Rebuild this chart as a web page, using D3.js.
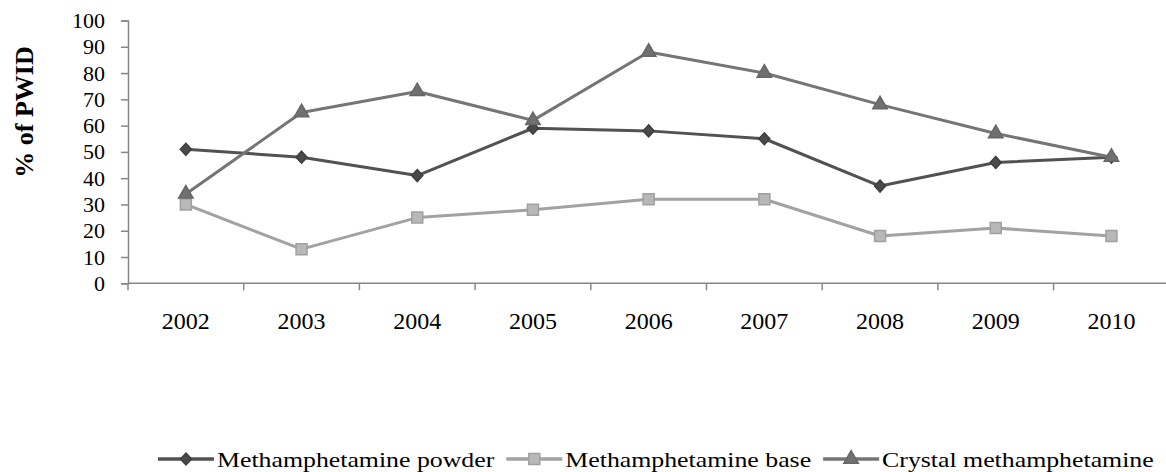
<!DOCTYPE html>
<html>
<head>
<meta charset="utf-8">
<script src="https://cdn.jsdelivr.net/npm/d3@7"></script>
<style>
  body { margin: 0; background: #fff; }
  svg text { font-family: "Liberation Serif", "DejaVu Serif", serif; fill: #000; }
</style>
</head>
<body>
<div id="chart-area"></div>
<script>
// data
let years = ["2002", "2003", "2004", "2005", "2006", "2007", "2008", "2009", "2010"];
let powder = [51, 48, 41, 59, 58, 55, 37, 46, 48];
let base = [30, 13, 25, 28, 32, 32, 18, 21, 18];
let crystal = [34, 65, 73, 62, 88, 80, 68, 57, 48];
let seriesNames = ["Methamphetamine powder", "Methamphetamine base", "Crystal methamphetamine"];
let yTicks = [0, 10, 20, 30, 40, 50, 60, 70, 80, 90, 100];

let W = 1166, H = 472;
let margin = {top: 20.5, left: 128};
let step = 115.7;

let svg = d3.select("#chart-area").append("svg")
  .attr("width", W)
  .attr("height", H);

// plot area runs a little past the right edge, as in the reference
let x = d3.scaleBand().domain(years).range([margin.left, margin.left + years.length * step]);
let y = d3.scaleLinear().domain([0, 100]).range([283.3, margin.top]);

let axisColor = "#868686";

// y axis
let yAxis = svg.append("g")
  .attr("transform", "translate(" + margin.left + ",0)")
  .call(d3.axisLeft(y).tickValues(yTicks).tickSize(7).tickPadding(16));
yAxis.select(".domain").attr("stroke", axisColor).attr("stroke-width", 1.5);
yAxis.selectAll(".tick line").attr("stroke", axisColor).attr("stroke-width", 1.5);
yAxis.selectAll(".tick text")
  .style("font-size", "22px")
  .style("font-family", "Liberation Serif")
  .attr("fill", "#000");

// x axis, ticks between categories
let xAxis = svg.append("g")
  .attr("transform", "translate(0," + y(0) + ")");
xAxis.append("line")
  .attr("x1", margin.left).attr("x2", W)
  .attr("stroke", axisColor).attr("stroke-width", 1.5);
xAxis.selectAll(".xt")
  .data(years.concat(["end"]))
  .enter().append("line")
  .attr("class", "xt")
  .attr("x1", (d, i) => margin.left + i * x.step())
  .attr("x2", (d, i) => margin.left + i * x.step())
  .attr("y1", 0).attr("y2", 7)
  .attr("stroke", axisColor).attr("stroke-width", 1.5);
xAxis.selectAll(".xl")
  .data(years)
  .enter().append("text")
  .attr("class", "xl")
  .attr("x", d => x(d) + x.bandwidth() / 2)
  .attr("y", 46)
  .attr("text-anchor", "middle")
  .style("font-size", "24px")
  .text(d => d);

// y axis title
svg.append("text")
  .attr("transform", "translate(33,112) rotate(-90)")
  .attr("text-anchor", "middle")
  .style("font-size", "26px")
  .style("font-weight", "bold")
  .text("% of PWID");

// diamond that is about as wide as it is tall
let squatDiamond = {
  draw(ctx, size) {
    let r = Math.sqrt(size / 2);
    ctx.moveTo(0, -r);
    ctx.lineTo(r * 0.92, 0);
    ctx.lineTo(0, r);
    ctx.lineTo(-r * 0.92, 0);
    ctx.closePath();
  }
};

let series = [
  {name: seriesNames[0], values: powder, line: "#525252", fill: "#4a4a4a", stroke: "#3f3f3f", shape: squatDiamond, size: 72},
  {name: seriesNames[1], values: base, line: "#a2a2a2", fill: "#b8b8b8", stroke: "#a0a0a0", shape: d3.symbolSquare, size: 121},
  {name: seriesNames[2], values: crystal, line: "#757575", fill: "#707070", stroke: "#666666", shape: d3.symbolTriangle, size: 90}
];

let line = d3.line()
  .x((d, i) => x(years[i]) + x.bandwidth() / 2)
  .y(d => y(d));

series.forEach(s => {
  svg.append("path")
    .datum(s.values)
    .attr("fill", "none")
    .attr("stroke", s.line)
    .attr("stroke-width", 3)
    .attr("stroke-linejoin", "round")
    .attr("d", line);

  svg.selectAll(null)
    .data(s.values)
    .enter().append("path")
    .attr("transform", (d, i) => "translate(" + (x(years[i]) + x.bandwidth() / 2) + "," + y(d) + ")")
    .attr("d", d3.symbol().type(s.shape).size(s.size))
    .attr("fill", s.fill)
    .attr("stroke", s.stroke)
    .attr("stroke-width", 1.5);
});

// legend - the reference font runs wider than Liberation Serif, so stretch it a bit
let stretch = 1.23;
let legend = svg.append("g").attr("transform", "translate(0,459)");
let lx = 158;
series.forEach(s => {
  let g = legend.append("g").attr("transform", "translate(" + lx + ",0)");
  g.append("line")
    .attr("x1", 0).attr("x2", 56)
    .attr("stroke", s.line).attr("stroke-width", 3.5);
  g.append("path")
    .attr("transform", "translate(28,0)")
    .attr("d", d3.symbol().type(s.shape).size(s.size))
    .attr("fill", s.fill)
    .attr("stroke", s.stroke)
    .attr("stroke-width", 1.5);
  let t = g.append("text")
    .attr("transform", "translate(59,8) scale(" + stretch + ",1)")
    .style("font-size", "21px")
    .text(s.name);
  lx += 59 + t.node().getComputedTextLength() * stretch + 12;
});
</script>
</body>
</html>
